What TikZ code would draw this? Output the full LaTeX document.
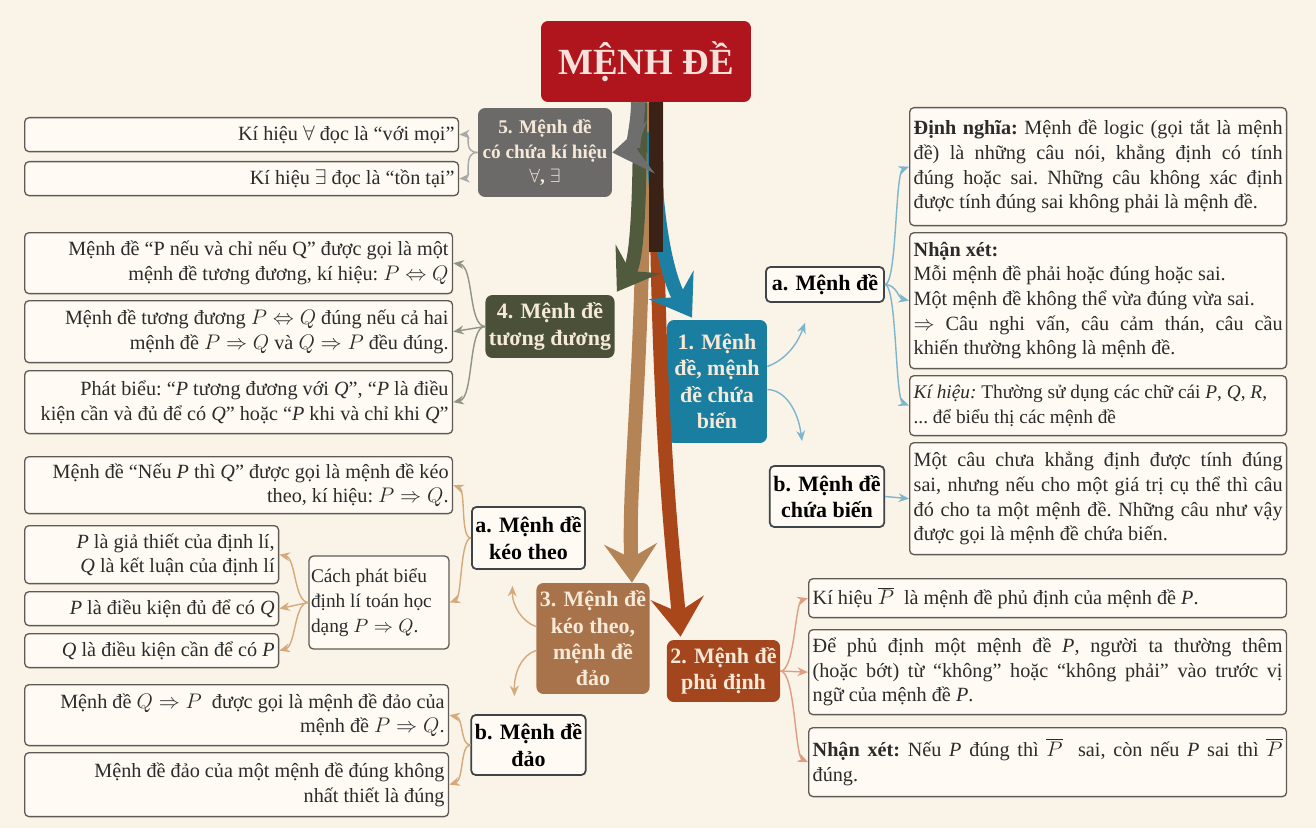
\documentclass[tikz,border=0pt]{standalone}
\usepackage{fontspec}
\setmainfont{Liberation Serif}
\usetikzlibrary{arrows.meta,calc}
\definecolor{bgc}{HTML}{FAF3E8}
\definecolor{titlec}{HTML}{B0141C}
\definecolor{titletext}{HTML}{F6E2DA}
\definecolor{c5}{HTML}{6B6A69}
\definecolor{c4}{HTML}{4B5139}
\definecolor{c1}{HTML}{1A7EA1}
\definecolor{c3}{HTML}{A8734A}
\definecolor{c2}{HTML}{A3451D}
\definecolor{pale}{HTML}{F6E9D8}
\definecolor{boxline}{HTML}{5E5A55}
\definecolor{boxfill}{HTML}{FFFBF4}
\definecolor{subline}{HTML}{3E4447}
\definecolor{txt}{HTML}{2B2B2B}
\definecolor{l5}{HTML}{A8A8A8}
\definecolor{l4}{HTML}{8F9580}
\definecolor{l1}{HTML}{7DB6CC}
\definecolor{l3}{HTML}{D4AA7C}
\definecolor{l2}{HTML}{DE9E82}
\definecolor{ctan}{HTML}{B58456}
\definecolor{crust}{HTML}{A9471B}
\definecolor{cdark}{HTML}{3A2316}
\definecolor{colive}{HTML}{505A3C}
\definecolor{cgray}{HTML}{6E6E6E}
\definecolor{cblue}{HTML}{1B80A4}
\newcommand\fs{\fontsize{11.5}{14}\selectfont\frenchspacing}
\newcommand\fb{\fontsize{12.5}{15}\selectfont\bfseries}
\tikzset{
  tb/.style={draw=boxline, fill=boxfill, rounded corners=2.5pt, line width=0.75pt,
    anchor=north west, inner xsep=0.08cm, inner ysep=0.04cm, font=\fs, text=txt},
  hub/.style={rounded corners=4pt, anchor=center, align=center, font=\fb, text=pale, inner sep=2pt},
  sub/.style={draw=subline, fill=boxfill, rounded corners=2.5pt, line width=1pt,
    align=center, font=\fb, text=black, inner sep=2pt},
  con/.style={line width=0.8pt, -{Stealth[length=6pt,width=5pt]}},
  big/.style={line width=8pt, -{Stealth[length=22pt,width=30pt,inset=8pt]}},
}
\begin{document}
\begin{tikzpicture}[x=0.02cm,y=-0.02cm]
\useasboundingbox (0,0) rectangle (1316,828);
\fill[bgc] (0,0) rectangle (1316,828);

% title
\node[fill=titlec, rounded corners=4pt, minimum width=4.2cm, minimum height=1.62cm,
  text=titletext, font=\fontsize{21}{24}\selectfont\bfseries] (title) at (646,61.5) {MỆNH ĐỀ};

% hubs
\node[hub, fill=c5, minimum width=2.68cm, minimum height=1.78cm, font=\fontsize{11}{14}\selectfont\bfseries] (n5) at (545,152.5) {5. Mệnh đề\\có chứa kí hiệu\\$\forall$, $\exists$};
\node[hub, fill=c4, minimum width=2.48cm, minimum height=1.26cm] (n4) at (550,326.5) {4. Mệnh đề\\tương đương};
\node[hub, fill=c1, minimum width=2.0cm, minimum height=2.46cm] (n1) at (717,381.5) {1. Mệnh\\đề, mệnh\\đề chứa\\biến};
\node[hub, fill=c3, minimum width=2.08cm, minimum height=2.22cm] (n3) at (593,638.5) {3. Mệnh đề\\kéo theo,\\mệnh đề\\đảo};
\node[hub, fill=c2, minimum width=2.22cm, minimum height=1.24cm] (n2) at (723.5,671) {2. Mệnh đề\\phủ định};

% sub nodes
\node[sub, minimum width=2.36cm, minimum height=0.7cm] (aM) at (825,284.5) {a. Mệnh đề};
\node[sub, minimum width=2.28cm, minimum height=1.22cm] (bM) at (827,496.5) {b. Mệnh đề\\chứa biến};
\node[sub, minimum width=2.22cm, minimum height=1.24cm] (aK) at (528.5,538) {a. Mệnh đề\\kéo theo};
\node[sub, minimum width=2.22cm, minimum height=1.2cm] (bK) at (528.5,745) {b. Mệnh đề\\đảo};

% group 5
\node[tb, minimum width=8.68cm, minimum height=0.68cm, text width=8.52cm, align=flush right] (k51) at (24,117) {Kí hiệu $\forall$ đọc là “với mọi”};
\node[tb, minimum width=8.68cm, minimum height=0.68cm, text width=8.52cm, align=flush right] (k52) at (24,161) {Kí hiệu $\exists$ đọc là “tồn tại”};

% group 4
\node[tb, minimum width=8.56cm, minimum height=1.22cm, text width=8.40cm, align=flush right] (t4a) at (24,232) {Mệnh đề “P nếu và chỉ nếu Q” được gọi là một\\mệnh đề tương đương, kí hiệu: $P\Leftrightarrow Q$};
\node[tb, minimum width=8.56cm, minimum height=1.24cm, text width=8.40cm, align=flush right] (t4b) at (24,300) {Mệnh đề tương đương $P\Leftrightarrow Q$\ đúng nếu cả hai\\mệnh đề $P\Rightarrow Q$\ và $Q\Rightarrow P$\ đều đúng.};
\node[tb, minimum width=8.56cm, minimum height=1.26cm, text width=8.40cm, align=flush right] (t4c) at (24,370) {Phát biểu: “\textit{P} tương đương với \textit{Q}”, “\textit{P} là điều\\kiện cần và đủ để có \textit{Q}” hoặc “\textit{P} khi và chỉ khi \textit{Q}”};

% group 3a
\node[tb, minimum width=8.56cm, minimum height=1.14cm, text width=8.40cm, align=flush right] (kt1) at (24,456) {Mệnh đề “Nếu \textit{P} thì \textit{Q}” được gọi là mệnh đề kéo\\theo, kí hiệu: $P\Rightarrow Q$.};
\node[tb, anchor=center, inner xsep=0.04cm, minimum width=2.80cm, minimum height=1.86cm, text width=2.72cm, align=flush left, font=\fontsize{11}{14}\selectfont\frenchspacing] (cach) at (379,602.5) {Cách phát biểu\\định lí toán học\\dạng $P\Rightarrow Q$.};
\node[tb, minimum width=5.08cm, minimum height=1.16cm, text width=4.92cm, align=flush right] (kt2) at (24,525) {\textit{P} là giả thiết của định lí,\\\textit{Q} là kết luận của định lí};
\node[tb, minimum width=5.08cm, minimum height=0.68cm, text width=4.92cm, align=flush right] (kt3) at (24,591) {\textit{P} là điều kiện đủ để có \textit{Q}};
\node[tb, minimum width=5.08cm, minimum height=0.68cm, text width=4.92cm, align=flush right] (kt4) at (24,633) {\textit{Q} là điều kiện cần để có \textit{P}};

% group 3b
\node[tb, minimum width=8.48cm, minimum height=1.22cm, text width=8.32cm, align=flush right] (dd1) at (24,684) {Mệnh đề $Q\Rightarrow P$\ \ được gọi là mệnh đề đảo của\\mệnh đề $P\Rightarrow Q$.};
\node[tb, minimum width=8.48cm, minimum height=1.28cm, text width=8.32cm, align=flush right] (dd2) at (24,752) {Mệnh đề đảo của một mệnh đề đúng không\\nhất thiết là đúng};

% group 1
\node[tb, minimum width=7.54cm, minimum height=2.36cm, text width=7.38cm, align=justify] (r1) at (909,107) {\textbf{Định nghĩa:} Mệnh đề logic (gọi tắt là mệnh\linebreak đề) là những câu nói, khẳng định có tính\linebreak đúng hoặc sai. Những câu không xác định\linebreak được tính đúng sai không phải là mệnh đề.};
\node[tb, minimum width=7.54cm, minimum height=2.72cm, text width=7.38cm, align=justify] (r2) at (909,232) {\textbf{Nhận xét:}\\Mỗi mệnh đề phải hoặc đúng hoặc sai.\\Một mệnh đề không thể vừa đúng vừa sai.\\$\Rightarrow$ Câu nghi vấn, câu cảm thán, câu cầu\linebreak khiến thường không là mệnh đề.};
\node[tb, minimum width=7.54cm, minimum height=1.20cm, text width=7.38cm, align=flush left, font=\fontsize{11}{14}\selectfont\frenchspacing] (r3) at (909,375) {\textit{Kí hiệu:} Thường sử dụng các chữ cái \textit{P}, \textit{Q}, \textit{R},\\... để biểu thị các mệnh đề};
\node[tb, minimum width=7.54cm, minimum height=2.24cm, text width=7.38cm, align=justify] (r4) at (909,442) {Một câu chưa khẳng định được tính đúng\linebreak sai, nhưng nếu cho một giá trị cụ thể thì câu\linebreak đó cho ta một mệnh đề. Những câu như vậy\linebreak được gọi là mệnh đề chứa biến.};

% group 2
\node[tb, minimum width=9.56cm, minimum height=0.78cm, text width=9.40cm, align=flush left] (p1) at (808,578) {Kí hiệu $\overline{P}$\ \ là mệnh đề phủ định của mệnh đề \textit{P}.};
\node[tb, minimum width=9.56cm, minimum height=1.70cm, text width=9.40cm, align=justify] (p2) at (808,629) {Để phủ định một mệnh đề \textit{P}, người ta thường thêm\linebreak (hoặc bớt) từ “không” hoặc “không phải” vào trước vị\linebreak ngữ của mệnh đề \textit{P}.};
\node[tb, minimum width=9.56cm, minimum height=1.38cm, text width=9.40cm, align=justify] (p3) at (808,727) {\textbf{Nhận xét:} Nếu \textit{P} đúng thì $\overline{P}$\ \ sai, còn nếu \textit{P} sai thì $\overline{P}$\linebreak đúng.};

% big arrows
\draw[big, ctan] ($(title.south)+(-2,0)$) .. controls (644,380) and (628,470) .. ($(n3.north east)+(-18,0)$);
\draw[big, crust] ($(title.south)+(10,0)$) .. controls (656,420) and (674,560) .. ($(n2.north west)+(14,-3)$);
\draw[big, cblue] ($(title.south)+(8,30)$) .. controls (654,220) and (668,280) .. ($(n1.north)+(-25,-2)$);
\draw[line width=8pt, cdark] ($(title.south)+(10,0)$) -- ($(title.south)+(10,150)$);
\draw[big, colive] ($(title.south)+(-6,0)$) .. controls (640,220) and (636,262) .. ($(n4.north east)+(2,-3)$);
\draw[big, cgray] ($(title.south)+(-8,0)$) .. controls (638,128) and (630,150) .. (n5.east);

% small connectors
\draw[con, l5] (n5.west) .. controls (462,152) and (472,134) .. (k51.east);
\draw[con, l5] (n5.west) .. controls (462,152) and (472,178) .. (k52.east);

\draw[con, l4] (n4.west) .. controls (468,326) and (474,266) .. (t4a.east);
\draw[con, l4] (n4.west) -- (t4b.east);
\draw[con, l4] (n4.west) .. controls (468,326) and (474,398) .. (t4c.east);

\draw[con, l3] (aK.west) .. controls (460,538) and (466,490) .. (kt1.east);
\draw[con, l3] (aK.west) .. controls (460,538) and (462,598) .. (cach.east);
\draw[con, l3] (cach.west) .. controls (294,602) and (296,558) .. (kt2.east);
\draw[con, l3] (cach.west) -- (kt3.east);
\draw[con, l3] (cach.west) .. controls (294,602) and (296,646) .. (kt4.east);
\draw[con, l3] (bK.west) .. controls (460,745) and (464,718) .. (dd1.east);
\draw[con, l3] (bK.west) .. controls (460,745) and (464,780) .. (dd2.east);
\draw[con, l3] ($(n3.west)+(0,-12)$) .. controls (522,622) and (512,605) .. ($(aK.south)+(-16,16)$);
\draw[con, l3] ($(n3.west)+(0,12)$) .. controls (522,655) and (514,672) .. ($(bK.north)+(-14,-18)$);

\draw[con, l1] ($(n1.east)+(0,-15)$) .. controls (785,360) and (797,345) .. ($(aM.south)+(-20,20)$);
\draw[con, l1] ($(n1.east)+(0,8)$) .. controls (785,390) and (798,410) .. ($(bM.north)+(-25,-24)$);
\draw[con, l1] (aM.east) .. controls (897,285) and (895,172) .. (r1.west);
\draw[con, l1] (aM.east) .. controls (897,285) and (898,298) .. (r2.west);
\draw[con, l1] (aM.east) .. controls (897,285) and (895,400) .. (r3.west);
\draw[con, l1] (bM.east) -- (r4.west);

\draw[con, l2] (n2.east) .. controls (795,671) and (795,602) .. (p1.west);
\draw[con, l2] (n2.east) -- (p2.west);
\draw[con, l2] (n2.east) .. controls (795,671) and (795,756) .. (p3.west);
\end{tikzpicture}
\end{document}
